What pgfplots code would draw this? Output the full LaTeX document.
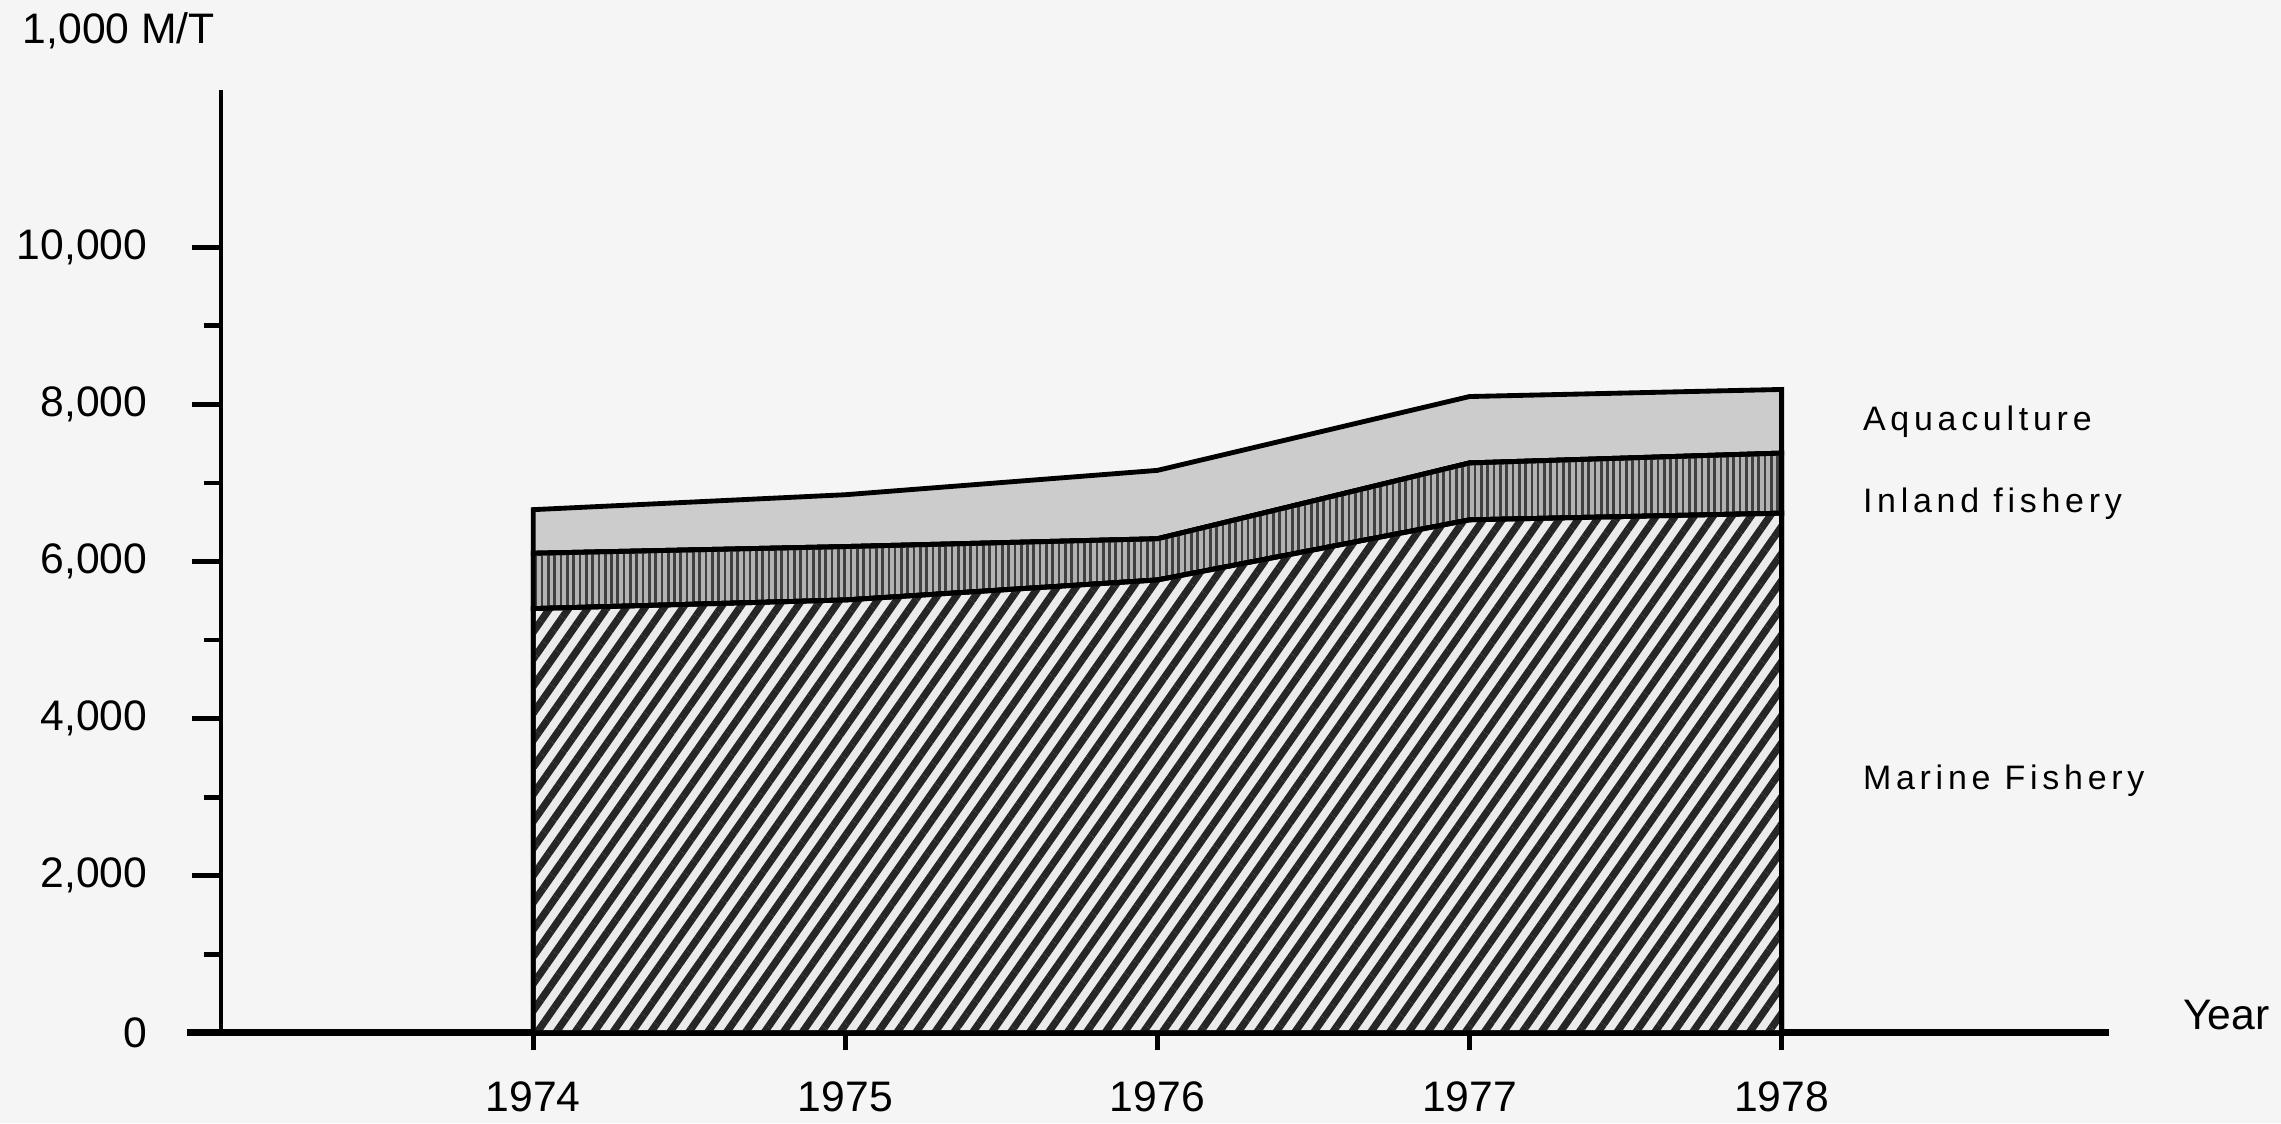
\documentclass[border=0pt]{standalone}
\usepackage{fontspec}
\setmainfont{Liberation Sans}
\newfontfamily\lblfont{Liberation Sans}[LetterSpace=14]
\usepackage{pgfplots}
\pgfplotsset{compat=1.18}
\usetikzlibrary{patterns.meta}

\begin{document}
\begin{tikzpicture}
  % frame of the whole page (1 px of the 1568 px wide view = 0.3pt)
  \path[use as bounding box, fill=black!4] (-45.6pt,-18.6pt) rectangle (424.8pt,213pt);
  \begin{axis}[
      scale only axis,
      width=389.4pt,
      height=194.4pt,
      xmin=1973, xmax=1979.05,
      ymin=0, ymax=12000,
      axis x line*=bottom,
      axis y line*=left,
      x axis line style={line width=1.4pt, shorten <=-7pt},
      y axis line style={line width=0.8pt},
      tick align=outside,
      xtick={1974,1975,1976,1977,1978},
      minor xtick={1974,1975,1976,1977,1978},
      major x tick style=transparent,
      ytick={0,2000,4000,6000,8000,10000},
      minor ytick={1000,3000,5000,7000,9000},
      scaled y ticks=false,
      major tick length=6pt,
      minor tick length=3.6pt,
      every tick/.style={black, line width=1pt},
      tick label style={font=\fontsize{8.8}{10}\selectfont},
      x tick label style={/pgf/number format/1000 sep={}, yshift=-0.5pt},
      y tick label style={/pgf/number format/1000 sep={,}, xshift=-5.7pt},
      /pgf/number format/assume math mode=true,
      stack plots=y,
      clip=false,
    ]
    % Marine fishery
    \addplot[draw=black, line width=1pt, fill=black!8,
      postaction={pattern={Lines[angle=55, distance=3.2pt, line width=1.5pt]}, pattern color=black!85}]
      coordinates {(1974,5400) (1975,5510) (1976,5765) (1977,6530) (1978,6615)} \closedcycle;
    % Inland fishery
    \addplot[draw=black, line width=1pt, fill=black!30,
      postaction={pattern={Lines[angle=90, distance=1.3pt, line width=0.55pt]}, pattern color=black!75}]
      coordinates {(1974,705) (1975,680) (1976,525) (1977,725) (1978,765)} \closedcycle;
    % Aquaculture
    \addplot[draw=black, line width=1pt, fill=black!20]
      coordinates {(1974,555) (1975,660) (1976,870) (1977,845) (1978,810)} \closedcycle;
  \end{axis}
  \node[anchor=base west, inner sep=0pt, font=\fontsize{8.8}{10}\selectfont] at (-41.1pt,204pt) {1,000 M/T};
  \node[anchor=base west, inner sep=0pt, font=\fontsize{8.8}{10}\selectfont] at (404.4pt,0.6pt) {Year};
  \node[anchor=base west, inner sep=0pt, font=\lblfont\fontsize{7}{8}\selectfont] at (338.4pt,124.2pt) {Aquaculture};
  \node[anchor=base west, inner sep=0pt, font=\lblfont\fontsize{7}{8}\selectfont] at (338.4pt,107.4pt) {Inland fishery};
  \node[anchor=base west, inner sep=0pt, font=\lblfont\fontsize{7}{8}\selectfont] at (338.4pt,50.1pt) {Marine Fishery};
\end{tikzpicture}
\end{document}
